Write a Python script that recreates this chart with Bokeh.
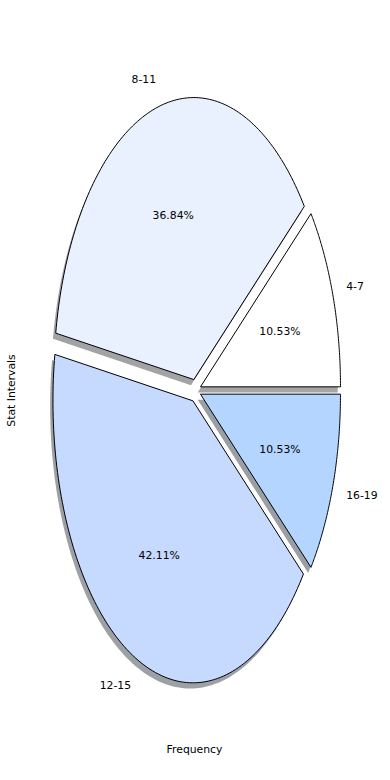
import numpy as np
from bokeh.plotting import figure
from bokeh.models import ColumnDataSource, Range1d
from bokeh.core.properties import value
from bokeh.embed import file_html
from bokeh.resources import INLINE

# ---- data ----
categories = ["4-7", "8-11", "12-15", "16-19"]
counts = [2, 7, 8, 2]
colors = ["#ffffff", "#eaf1fe", "#c6d9fe", "#b3d5ff"]
explode = [0.04, 0.04, 0.04, 0.04]
x_label = "Frequency"
y_label = "Stat Intervals"

FONT = "DejaVu Sans"
FS = "10.8px"

W, H = 390, 780
p = figure(width=W, height=H, output_backend="svg", toolbar_location=None,
           x_range=Range1d(-1.3907, 1.3950), y_range=Range1d(-1.383, 1.383),
           min_border=0, border_fill_color="white", background_fill_color="white")
p.axis.visible = False
p.grid.visible = False
p.outline_line_color = None

total = float(sum(counts))
fracs = [c / total for c in counts]

wx, wy, sx_, sy_, shadow_cols = [], [], [], [], []
lab_x, lab_y, lab_t, lab_align = [], [], [], []
pct_x, pct_y, pct_t = [], [], []
start = 0.0
for cat, f, col, ex in zip(categories, fracs, colors, explode):
    t1 = start
    t2 = start + 360.0 * f
    mid = np.deg2rad((t1 + t2) / 2)
    cx, cy = ex * np.cos(mid), ex * np.sin(mid)
    th = np.deg2rad(np.linspace(t1, t2, 120))
    xs = [cx] + list(cx + np.cos(th)) + [cx]
    ys = [cy] + list(cy + np.sin(th)) + [cy]
    wx.append(xs)
    wy.append(ys)
    sx_.append([x - 0.02 for x in xs])
    sy_.append([y - 0.02 for y in ys])
    h = col.lstrip("#")
    rgb = [int(h[i:i + 2], 16) for i in (0, 2, 4)]
    shadow_cols.append("#%02x%02x%02x" % tuple(int(v * 0.3) for v in rgb))
    lx = cx + 1.1 * np.cos(mid)
    ly = cy + 1.1 * np.sin(mid)
    lab_x.append(lx)
    lab_y.append(ly)
    lab_t.append(cat)
    lab_align.append("left" if lx > 0 else "right")
    pct_x.append(cx + 0.6 * np.cos(mid))
    pct_y.append(cy + 0.6 * np.sin(mid))
    pct_t.append("%.2f%%" % (f * 100))
    start = t2

p.patches(xs="xs", ys="ys", fill_color="c", fill_alpha=0.5, line_color=None,
          source=ColumnDataSource(dict(xs=sx_, ys=sy_, c=shadow_cols)))
p.patches(xs="xs", ys="ys", fill_color="c", line_color="black", line_width=1,
          source=ColumnDataSource(dict(xs=wx, ys=wy, c=colors)))

p.text(x="x", y="y", text="t", text_align="a", text_baseline="middle",
       text_font=value(FONT), text_font_size=FS, text_color="black",
       source=ColumnDataSource(dict(x=lab_x, y=lab_y, t=lab_t, a=lab_align)))
p.text(x="x", y="y", text="t", text_align="center", text_baseline="middle",
       text_font=value(FONT), text_font_size=FS, text_color="black",
       source=ColumnDataSource(dict(x=pct_x, y=pct_y, t=pct_t)))

# axis labels
p.text(x=[-0.005], y=[-1.273], text=[x_label], text_align="center",
       text_baseline="middle", text_font=value(FONT), text_font_size=FS,
       text_color="black")
p.text(x=[-1.3157], y=[0.0], text=[y_label], text_align="center",
       text_baseline="middle", angle=np.pi / 2, text_font=value(FONT),
       text_font_size=FS, text_color="black")

open("out.html", "w").write(file_html(p, INLINE))
